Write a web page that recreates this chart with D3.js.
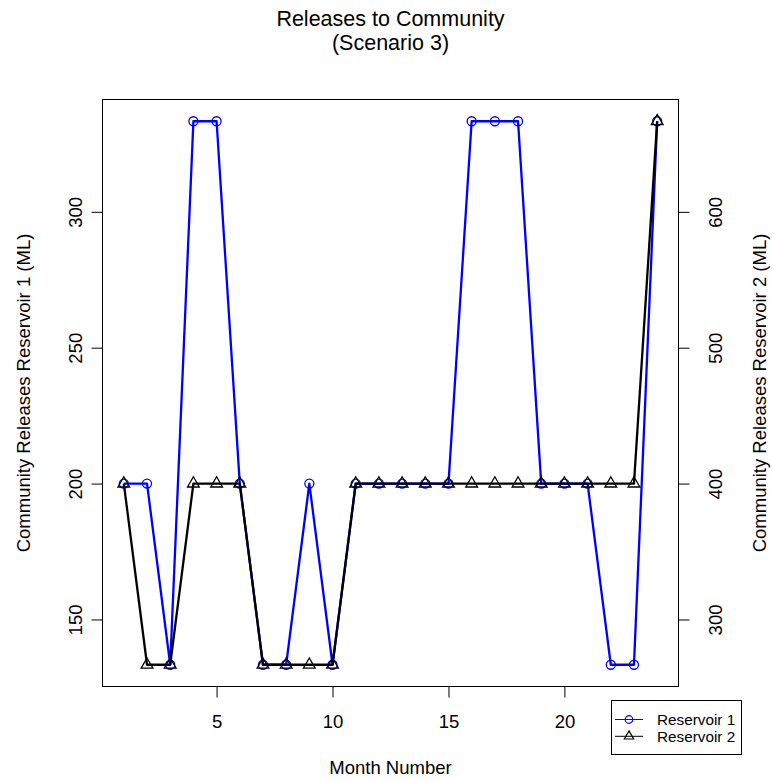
<!DOCTYPE html>
<html>
<head>
<meta charset="utf-8">
<script src="https://cdn.jsdelivr.net/npm/d3@7"></script>
<style>
  html, body { margin: 0; padding: 0; background: #ffffff; }
  svg { display: block; font-family: "Liberation Sans", Arial, Helvetica, sans-serif; }
</style>
</head>
<body>
<svg id="chart" width="772" height="780"></svg>
<script>
// ---- data ----
const months = [1,2,3,4,5,6,7,8,9,10,11,12,13,14,15,16,17,18,19,20,21,22,23,24];
const reservoir1 = [200,200,133.33,333.33,333.33,200,133.33,133.33,200,133.33,200,200,200,200,200,333.33,333.33,333.33,200,200,200,133.33,133.33,333.33];
const reservoir2 = [400,266.67,266.67,400,400,400,266.67,266.67,266.67,266.67,400,400,400,400,400,400,400,400,400,400,400,400,400,666.67];
const xTicks = [5,10,15,20];
const yLeftTicks = [150,200,250,300];
const yRightTicks = [300,400,500,600];
const seriesNames = ["Reservoir 1","Reservoir 2"];
const titleLines = ["Releases to Community","(Scenario 3)"];

// ---- layout ----
const L = 102.5, R = 678.5, T = 99.5, B = 686.5;
const svg = d3.select("#chart");

function ext(arr) {
  const mn = d3.min(arr), mx = d3.max(arr), p = (mx - mn) * 0.04;
  return [mn - p, mx + p];
}
const x = d3.scaleLinear().domain(ext(months)).range([L, R]);
const yL = d3.scaleLinear().domain(ext(reservoir1)).range([B, T]);
const yR = d3.scaleLinear().domain(ext(reservoir2)).range([B, T]);

// ---- title ----
svg.selectAll("text.title").data(titleLines).enter().append("text")
  .attr("class","title")
  .attr("x", (L + R) / 2)
  .attr("y", (d,i) => 26 + i * 24)
  .attr("text-anchor","middle")
  .attr("font-size", "21.5px")
  .attr("fill","#000")
  .text(d => d);

// ---- axes ----
const fs = "18.5px";
const gx = svg.append("g").attr("transform", `translate(0,${B})`)
  .call(d3.axisBottom(x).tickValues(xTicks).tickSize(11).tickSizeOuter(0).tickFormat(d3.format("d")));
gx.attr("font-family", null).attr("font-size", null);
gx.select(".domain").remove();
gx.selectAll(".tick line").attr("stroke","#000");
gx.selectAll(".tick text").attr("y", 41.5).attr("dy", 0).attr("font-size", fs).attr("fill","#000");

const gl = svg.append("g").attr("transform", `translate(${L},0)`)
  .call(d3.axisLeft(yL).tickValues(yLeftTicks).tickSize(11).tickSizeOuter(0).tickFormat(d3.format("d")));
gl.attr("font-family", null).attr("font-size", null);
gl.select(".domain").remove();
gl.selectAll(".tick line").attr("stroke","#000");
gl.selectAll(".tick text").attr("x", 0).attr("y", 0).attr("dy", 0)
  .attr("transform","translate(-21,0) rotate(-90)")
  .attr("text-anchor","middle").attr("font-size", fs).attr("fill","#000");

const gr = svg.append("g").attr("transform", `translate(${R},0)`)
  .call(d3.axisRight(yR).tickValues(yRightTicks).tickSize(11).tickSizeOuter(0).tickFormat(d3.format("d")));
gr.attr("font-family", null).attr("font-size", null);
gr.select(".domain").remove();
gr.selectAll(".tick line").attr("stroke","#000");
gr.selectAll(".tick text").attr("x", 0).attr("y", 0).attr("dy", 0)
  .attr("transform","translate(43,0) rotate(-90)")
  .attr("text-anchor","middle").attr("font-size", fs).attr("fill","#000");

// axis titles
svg.append("text").attr("x",(L+R)/2).attr("y",774).attr("text-anchor","middle")
  .attr("font-size",fs).text("Month Number");
svg.append("text").attr("transform",`translate(30,${(T+B)/2}) rotate(-90)`).attr("text-anchor","middle")
  .attr("font-size",fs).text("Community Releases Reservoir 1 (ML)");
svg.append("text").attr("transform",`translate(766,${(T+B)/2}) rotate(-90)`).attr("text-anchor","middle")
  .attr("font-size",fs).text("Community Releases Reservoir 2 (ML)");

// ---- series ----
const d1 = months.map((m,i) => ({m, v: reservoir1[i]}));
const d2 = months.map((m,i) => ({m, v: reservoir2[i]}));

svg.append("path").datum(d1)
  .attr("d", d3.line().x(d => x(d.m)).y(d => yL(d.v)))
  .attr("fill","none").attr("stroke","#0000FF").attr("stroke-width",2.3).attr("stroke-linejoin","round");
svg.selectAll("circle.p1").data(d1).enter().append("circle")
  .attr("class","p1").attr("cx", d => x(d.m)).attr("cy", d => yL(d.v)).attr("r", 4.5)
  .attr("fill","none").attr("stroke","#0000FF").attr("stroke-width",1.3);

svg.append("path").datum(d2)
  .attr("d", d3.line().x(d => x(d.m)).y(d => yR(d.v)))
  .attr("fill","none").attr("stroke","#000").attr("stroke-width",2.3).attr("stroke-linejoin","round");
const tri = d3.symbol(d3.symbolTriangle, 60);
svg.selectAll("path.p2").data(d2).enter().append("path")
  .attr("class","p2").attr("d", tri)
  .attr("transform", d => `translate(${x(d.m)},${yR(d.v)})`)
  .attr("fill","none").attr("stroke","#000").attr("stroke-width",1.3);

// ---- plot box ----
svg.append("rect").attr("x",L).attr("y",T).attr("width",R-L).attr("height",B-T)
  .attr("fill","none").attr("stroke","#000").attr("stroke-width",1);

// ---- legend ----
const lg = svg.append("g");
lg.append("rect").attr("x",611.5).attr("y",700.5).attr("width",130).attr("height",54)
  .attr("fill","#fff").attr("stroke","#000").attr("stroke-width",1);
const legColors = ["#0000FF","#000000"];
const rows = lg.selectAll("g.row").data(seriesNames).enter().append("g")
  .attr("transform",(d,i) => `translate(0,${719.5 + i*16.8})`);
rows.append("line").attr("x1",615).attr("x2",643).attr("y1",0).attr("y2",0)
  .attr("stroke",(d,i)=>legColors[i]).attr("stroke-width",1);
rows.filter((d,i)=>i===0).append("circle").attr("cx",629).attr("cy",0).attr("r",3.8)
  .attr("fill","none").attr("stroke","#0000FF").attr("stroke-width",1.2);
rows.filter((d,i)=>i===1).append("path").attr("d", d3.symbol(d3.symbolTriangle, 38))
  .attr("transform","translate(629,0)")
  .attr("fill","none").attr("stroke","#000").attr("stroke-width",1.2);
rows.append("text").attr("x",657).attr("y",5.5).attr("font-size","15.3px").attr("fill","#000").text(d=>d);
</script>
</body>
</html>
